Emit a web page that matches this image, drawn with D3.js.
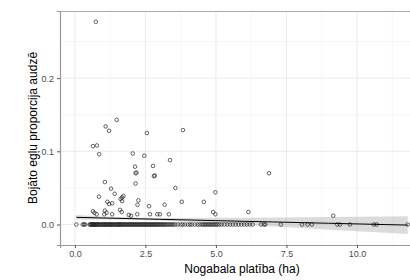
<!DOCTYPE html>
<html><head><meta charset="utf-8">
<script src="https://cdn.jsdelivr.net/npm/d3@7"></script>
<style>body{margin:0;background:#fff}svg{display:block}</style>
</head><body>
<svg id="c" width="410" height="280"></svg>
<script>
// Points above zero: [area (ha), proportion]
const ptsX = [0.74,1.09,1.21,1.48,2.55,3.83,0.64,0.78,0.86,2.05,2.46,2.13,2.77,3.37,2.15,2.18,2.80,2.83,1.06,2.15,1.28,3.56,4.98,1.41,0.85,1.62,1.67,1.72,1.67,2.25,1.15,1.21,1.32,3.79,4.57,2.22,2.63,3.18,0.64,0.69,0.77,1.06,1.12,1.04,1.32,1.60,1.66,1.91,1.99,2.21,2.66,2.92,3.01,3.33,4.90,4.98,6.15,9.16,6.88];
const ptsY = [0.277,0.134,0.128,0.143,0.125,0.129,0.107,0.108,0.096,0.097,0.094,0.079,0.080,0.088,0.070,0.071,0.066,0.067,0.058,0.056,0.049,0.050,0.044,0.042,0.038,0.035,0.037,0.039,0.032,0.033,0.031,0.028,0.029,0.031,0.031,0.027,0.025,0.027,0.018,0.016,0.014,0.019,0.016,0.014,0.014,0.020,0.017,0.013,0.012,0.014,0.014,0.014,0.014,0.014,0.017,0.014,0.017,0.012,0.070];
// Points at zero proportion: area values
const zeroX = [0.05,0.28,0.32,0.36,0.52,0.55,0.57,0.6,0.62,0.64,0.66,0.68,0.7,0.72,0.75,0.78,0.8,0.83,0.86,0.9,0.93,0.96,1.0,1.02,1.05,1.08,1.1,1.13,1.16,1.2,1.22,1.25,1.28,1.3,1.33,1.36,1.4,1.43,1.46,1.5,1.52,1.55,1.58,1.6,1.63,1.66,1.7,1.73,1.76,1.8,1.83,1.86,1.9,1.93,1.96,2.0,2.03,2.06,2.1,2.13,2.16,2.2,2.23,2.26,2.3,2.33,2.36,2.4,2.43,2.46,2.5,2.53,2.56,2.6,2.63,2.66,2.7,2.73,2.76,2.8,2.83,2.86,2.9,2.93,2.96,3.0,3.04,3.08,3.12,3.16,3.2,3.25,3.3,3.35,3.4,3.45,3.5,3.56,3.65,3.75,3.82,3.9,4.0,4.08,4.15,4.25,4.35,4.42,4.5,4.55,4.6,4.65,4.7,4.75,4.8,4.85,4.9,4.95,5.0,5.05,5.12,5.2,5.3,5.4,5.5,5.6,5.7,5.8,5.9,6.0,6.1,6.2,6.3,6.6,6.7,6.75,7.3,8.05,8.25,8.4,9.3,9.4,9.75,10.6,10.7,11.8];
// Linear fit with confidence band
const fitX = [0.05,1,2,3,4,5,6,7,8,9,10,11,11.8];
const fitY = [0.0098,0.0089,0.0080,0.0071,0.0062,0.0053,0.0044,0.0035,0.0026,0.0017,0.0008,-0.0001,-0.0008];
const fitLo = [0.0066,0.0067,0.0065,0.0054,0.0036,0.0015,-0.0005,-0.0027,-0.0048,-0.0070,-0.0091,-0.0113,-0.0130];
const fitHi = [0.0130,0.0111,0.0095,0.0088,0.0088,0.0091,0.0093,0.0097,0.0100,0.0104,0.0107,0.0111,0.0114];
const xTicks = [0,2.5,5,7.5,10];
const xMinor = [1.25,3.75,6.25,8.75,11.25];
const yTicks = [0,0.1,0.2];
const yMinor = [0.05,0.15,0.25];
const xTitle = "Nogabala platība (ha)";
const yTitle = "Bojāto egļu proporcija audzē";

const svg = d3.select("#c");
const L=60, R=450, T=11, B=245;
const x = d3.scaleLinear().domain([-0.53,13.3]).range([L,R]);
const y = d3.scaleLinear().domain([-0.028,0.2917]).range([B,T]);
const font = "Liberation Sans, Arial, sans-serif";

const g = svg.append("g");
// grid
g.selectAll(".vm").data(xMinor).join("line").attr("x1",d=>x(d)).attr("x2",d=>x(d)).attr("y1",T).attr("y2",B).attr("stroke","#f2f2f2").attr("stroke-width",0.6);
g.selectAll(".hm").data(yMinor).join("line").attr("y1",d=>y(d)).attr("y2",d=>y(d)).attr("x1",L).attr("x2",R).attr("stroke","#f2f2f2").attr("stroke-width",0.6);
g.selectAll(".vM").data(xTicks).join("line").attr("x1",d=>x(d)).attr("x2",d=>x(d)).attr("y1",T).attr("y2",B).attr("stroke","#ebebeb").attr("stroke-width",1);
g.selectAll(".hM").data(yTicks).join("line").attr("y1",d=>y(d)).attr("y2",d=>y(d)).attr("x1",L).attr("x2",R).attr("stroke","#ebebeb").attr("stroke-width",1);

// band
const band = fitX.map((d,i)=>({x:d,lo:fitLo[i],hi:fitHi[i],f:fitY[i]}));
g.append("path").datum(band).attr("d",d3.area().x(d=>x(d.x)).y0(d=>y(d.lo)).y1(d=>y(d.hi))).attr("fill","#999").attr("fill-opacity",0.35);

// points
const pts = ptsX.map((d,i)=>[d,ptsY[i]]).concat(zeroX.map(d=>[d,0]));
g.selectAll("circle").data(pts).join("circle").attr("cx",d=>x(d[0])).attr("cy",d=>y(d[1])).attr("r",1.8).attr("fill","none").attr("stroke","#222").attr("stroke-width",0.7);

// fit line
g.append("path").datum(band).attr("d",d3.line().x(d=>x(d.x)).y(d=>y(d.f))).attr("fill","none").attr("stroke","#000").attr("stroke-width",1);

// border
svg.append("line").attr("x1",L).attr("x2",R).attr("y1",T+0.5).attr("y2",T+0.5).attr("stroke","#aaa").attr("stroke-width",1);
// axes
const xa = svg.append("g").attr("transform",`translate(0,${B})`).call(d3.axisBottom(x).tickValues(xTicks).tickFormat(d3.format(".1f")).tickSize(3).tickPadding(3));
const ya = svg.append("g").attr("transform",`translate(${L},0)`).call(d3.axisLeft(y).tickValues(yTicks).tickFormat(d3.format(".1f")).tickSize(3).tickPadding(3));
[xa,ya].forEach(a=>{
  a.select(".domain").attr("stroke","#999").attr("stroke-width",1.2);
  a.selectAll(".tick line").attr("stroke","#555");
  a.selectAll("text").attr("fill","#4d4d4d").style("font-family",font).style("font-size","9px");
});
svg.append("text").attr("x",242).attr("y",273).attr("text-anchor","middle").style("font-family",font).style("font-size","12px").attr("fill","#000").text(xTitle);
svg.append("text").attr("transform",`translate(37,128) rotate(-90)`).attr("text-anchor","middle").style("font-family",font).style("font-size","12px").attr("fill","#000").text(yTitle);
</script>
</body></html>
